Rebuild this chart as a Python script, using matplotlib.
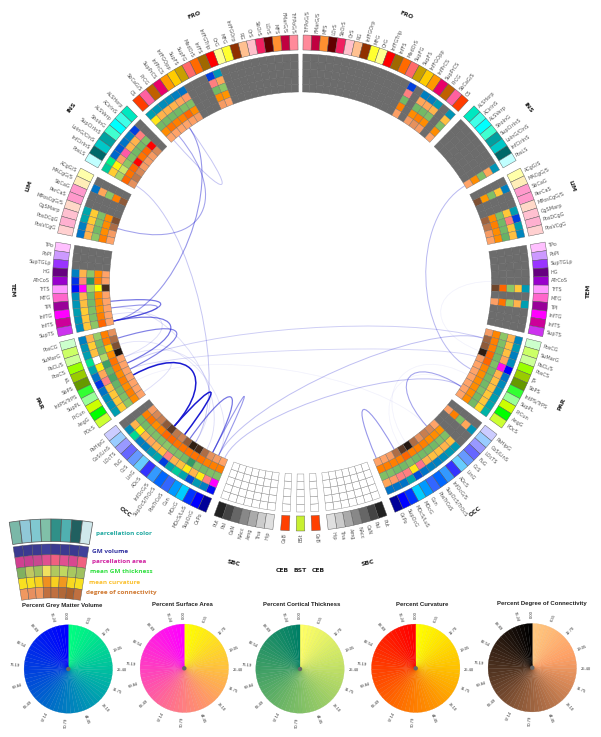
import numpy as np
import matplotlib
matplotlib.use("Agg")
import matplotlib.pyplot as plt
from matplotlib.patches import Wedge, PathPatch, Circle
from matplotlib.path import Path

x = np.nan
W = -1  # white cell inside a data group

# parcel names, one list per lobe
fro = ["TrFPoG/S", "FMarG/S", "MFS", "LOrS", "SbOrS", "OrS", "RG", "InfFGOrp", "MFG", "OrG", "InfFGTrip",
       "InfFS", "MedOrS", "SupFG", "SupFS", "InfFGOpp", "InfPrCS", "SupPrCS", "PrCG", "SbCaG/S", "CS"]
ins = ["ALSHorp", "ACirInS", "ALSVerp", "ShoInG", "SupCirInS", "LoInG/CInS", "InfCirInS", "PosLS"]
lim = ["ACgG/S", "MACgG/S", "SbCaG", "PerCaS", "MPosCgG/S", "CgSMarp", "PosDCgG", "PosVCgG"]
tem = ["TPo", "PoPl", "SupTGLp", "HG", "ATrCoS", "TrTS", "MTG", "TPl", "InfTG", "InfTS", "SupTS"]
par = ["PosCG", "SuMarG", "PaCL/S", "PosCS", "JS", "SbPS", "IntPS/TrPS", "SupPL", "PrCun", "AngG", "POcS"]
occ = ["PaHipG", "CoS/LinS", "LOcTS", "FuG", "CcS", "LinG", "AOcS", "InfOcG/S", "SupOcS/TrOcS", "PosTrCoS",
       "Cun", "MOcG", "MOcS/LuS", "SupOcG", "OcPo"]
sbc = ["Put", "Pal", "CaN", "NAcc", "Amg", "Tha", "Hip"]
ceb = ["CeB"]
bst = ["BSt"]

fro_col = ["#ff8a9a", "#c00040", "#ff9030", "#600000", "#f02060", "#ffc0cb", "#ffc090", "#903000", "#ffff30",
           "#ffff90", "#ff0000", "#a06800", "#ff6a00", "#ff6a6a", "#c8a000", "#ffcc00", "#ff9900", "#e8006a",
           "#c06000", "#ff60a0", "#ff3c00"]
ins_col = ["#00e8c0", "#40ffe8", "#00ffff", "#40ffd0", "#00a0a0", "#00c8c8", "#006868", "#c0ffff"]
lim_col = ["#ffffaa", "#ffeeb8", "#ff99cc", "#ff99cc", "#ffd8c8", "#ffc0d0", "#ffb0d0", "#ffd0d0"]
tem_col = ["#ffc0ff", "#cc99ff", "#9933ff", "#660080", "#9900cc", "#ff99ff", "#ff66cc", "#990099", "#ff00ff",
           "#cc0099", "#cc33ee"]
par_col = ["#ccffcc", "#ccff66", "#ccff99", "#99ff00", "#99cc00", "#669900", "#33ff33", "#99ff99", "#ccff00",
           "#00ff00", "#ccff33"]
occ_col = ["#ccccff", "#99ccff", "#9999ff", "#6666ff", "#6699ff", "#66ccff", "#3333ff", "#3399ff", "#0066ff",
           "#3366ff", "#0099ff", "#00ccff", "#0033ff", "#0000ff", "#000099"]
sbc_col = ["#222222", "#444444", "#666666", "#888888", "#aaaaaa", "#cccccc", "#e0e0e0"]
ceb_col = ["#ff4000"]
bst_col = ["#c8f030"]

# percent values per track: FRO, INS, LIM, TEM, PAR, OCC
gm_r = [x] * 14 + [75, x, 50, 50, 40, x, 42] + [x] * 7 + [42] + [x, 50, x, x, 38, 75, 38, 48] \
    + [x] * 5 + [40, x, 38, x, x, x] + [48, 40, 50, 45, 100, 55, 45, 42, 38, 35, 30] \
    + [x, 42, x, x, 40, 40, 45, 50, 50, 55, 70, 35, 55, 55, 55]
area_r = [x] * 14 + [50, x, 35, 35, 30, x, 25] + [x] * 7 + [35] + [x, 22, x, x, 22, 50, 22, 25] \
    + [x] * 5 + [22, x, 30, x, x, x] + [30, 25, 25, 35, 95, 30, 25, 25, 22, 22, 15] \
    + [x, 35, x, x, 25, 30, 25, 25, 30, 55, 10, 50, 50, 40, 35]
thick_r = [x] * 14 + [55, x, 55, 55, 50, x, 50] + [x] * 7 + [50] + [x, 50, x, x, 50, 55, 55, 60] \
    + [x] * 5 + [45, x, 40, x, x, x] + [45, 50, 55, 55, 50, 55, 55, 55, 50, 55, 55] \
    + [x, 50, x, x, 50, 50, 55, 55, 55, 55, 50, 55, 55, 50, 50]
curv_r = [x] * 14 + [50, x, 45, 50, 45, x, 45] + [x] * 7 + [45] + [x, 40, x, x, 45, 50, 45, 45] \
    + [x] * 5 + [60, x, 55, x, x, x] + [48, 50, 50, 60, 60, 48, 45, 45, 45, 45, 45] \
    + [x, 50, x, x, 42, 45, 45, 50, 50, 50, 60, 50, 50, 50, 50]
conn_r = [x] * 14 + [20, x, 22, 27, 22, x, 18] + [x] * 7 + [18] + [x, 60, x, x, 50, 40, 22, 18] \
    + [x] * 5 + [65, x, 20, x, x, x] + [22, 50, 55, 85, 22, 18, 18, 18, 18, 18, 18] \
    + [x, 20, x, x, 18, 32, 37, 27, 45, 88, 70, 45, 22, 18, 18]

gm_l = [x] * 10 + [42, 75, x, x, x, 55, 50, 45, 45, 42, 38] + [x, 75, 50, 55, 65, 60, 5, 20] \
    + [x, 55, x, x, 35, 35, 50, 55] + [x, x, x, 50, 80, 95, 45, 42, 38, 42, 45] \
    + [50, 42, 38, 10, 35, 55, 80, 55, 45, 42, 38] \
    + [x, 45, 15, 50, 50, 40, 35, 75, 35, 20, 35, 70, 40, 50, 95]
area_l = [x] * 10 + [35, 50, x, x, x, 40, 35, 30, 30, 30, 10] + [x, 50, 30, 30, 65, 40, 5, 20] \
    + [x, 35, x, x, 20, 20, 30, 30] + [x, x, x, 30, 45, 100, 30, 25, 20, 22, 22] \
    + [30, 20, 25, W, 8, 35, 50, 25, 22, 22, 20] \
    + [x, 30, 5, 30, 35, 30, 25, 50, 30, 25, 8, 30, 8, 50, 100]
thick_l = [x] * 10 + [45, 55, x, x, x, 50, 50, 55, 55, 55, 55] + [x, 50, 55, 55, 50, 45, 20, 35] \
    + [x, 45, x, x, 50, 50, 55, 45] + [x, x, x, 45, 85, 35, 55, 55, 50, 50, 45] \
    + [40, 55, 55, 30, 75, 60, 70, 60, 55, 50, 45] \
    + [x, 55, 55, 50, 50, 50, 45, 50, 50, 55, 80, 50, 55, 50, 50]
curv_l = [x] * 10 + [42, 45, x, x, x, 45, 60, 50, 50, 55, 45] + [x, 100, 60, 55, 100, 60, 55, 60] \
    + [x, 50, x, x, 45, 45, 45, 50] + [x, x, x, 45, 50, 0, 45, 45, 42, 50, 60] \
    + [50, 50, 22, 45, 55, 50, 45, 50, 45, 50, 45] \
    + [x, 50, 55, 45, 50, 60, 60, 55, 55, 55, 55, 55, 50, 50, 50]
conn_l = [x] * 10 + [18, 22, x, x, x, 22, 20, 18, 18, 18, 18] + [x, 32, 22, 22, 22, 32, 40, 27] \
    + [x, 55, x, x, 60, 45, 22, 18] + [x, x, x, 18, 20, 78, 18, 18, 18, 18, 18] \
    + [27, 45, 60, 90, 18, 18, 18, 18, 18, 18, 18] \
    + [x, 22, 32, 37, 55, 70, 40, 35, 55, 85, 78, 45, 27, 22, 18]

# connections: (side, lobe, parcel)
link_from = [("L", "TEM", 7), ("L", "TEM", 8), ("L", "TEM", 10), ("L", "PAR", 1), ("L", "PAR", 7), ("L", "OCC", 5),
             ("L", "OCC", 8), ("L", "OCC", 12), ("L", "LIM", 5), ("L", "FRO", 17), ("L", "TEM", 10), ("L", "INS", 7),
             ("L", "TEM", 8), ("L", "PAR", 2), ("L", "PAR", 5), ("L", "PAR", 6), ("L", "OCC", 14), ("L", "OCC", 13),
             ("R", "INS", 7), ("R", "PAR", 9), ("R", "OCC", 11), ("R", "PAR", 7), ("R", "PAR", 9), ("R", "TEM", 4),
             ("L", "PAR", 4), ("L", "TEM", 9), ("L", "PAR", 7), ("L", "PAR", 8)]
link_to = [("L", "TEM", 10), ("L", "TEM", 10), ("L", "PAR", 5), ("L", "PAR", 6), ("L", "OCC", 5), ("L", "OCC", 7),
           ("L", "OCC", 12), ("L", "OCC", 13), ("L", "FRO", 19), ("L", "FRO", 20), ("L", "FRO", 17), ("L", "OCC", 9),
           ("L", "OCC", 11), ("L", "OCC", 13), ("R", "PAR", 1), ("R", "PAR", 4), ("R", "PAR", 9), ("R", "PAR", 1),
           ("R", "PAR", 6), ("R", "OCC", 5), ("R", "OCC", 14), ("R", "OCC", 9), ("R", "OCC", 10), ("R", "PAR", 3),
           ("L", "OCC", 9), ("L", "PAR", 4), ("L", "PAR", 10), ("R", "OCC", 5)]
link_ctrl = [125, 130, 120, 115, 125, 125, 115, 105, 105, 105, 127, 126, 130, 130, 107, 150, 140, 130, 127, 130, 125,
             125, 130, 130, 120, 130, 140, 120]
link_strength = [.6, .45, .6, .55, 1, 1, .6, .45, .4, .25, .45, .25, .15, .12, .22, .18, .28, .28, .3, .4, .45, .06,
                 .05, .06, .12, .15, .15, .06]

# legend colours
legend_top = ["#7ab8a8", "#90c8d8", "#80c8d0", "#80c0a8", "#309088", "#50b0b0", "#206060", "#d0e8ec"]
legend_gm = ["#3a3a90", "#3a3a90", "#3a3a90", "#40409a", "#3a3a90", "#3a3a90", "#3a3a90", "#40409a"]
legend_area = ["#d04090", "#c84090", "#c84890", "#e05090", "#f06080", "#e05090", "#d84890", "#f06080"]
legend_thick = ["#80b060", "#c0c860", "#a0c060", "#f0e060", "#b0c860", "#c0d860", "#a8c860", "#a0c060"]
legend_curv = ["#f8e020", "#f8e020", "#f8d020", "#f09020", "#f8d020", "#f09820", "#f8d820", "#f8e020"]
legend_conn = ["#f09860", "#e89060", "#f09860", "#c07040", "#c07040", "#b06838", "#a86030", "#c07040"]
legend_text = ["parcellation color", "GM volume", "parcellation area", "mean GM thickness", "mean curvature",
               "degree of connectivity"]
legend_text_col = ["#20a8a0", "#3030a0", "#d020a0", "#30e040", "#fbc02d", "#d07830"]

wheel_titles = ["Percent Grey Matter Volume", "Percent Surface Area", "Percent Cortical Thickness",
                "Percent Curvature", "Percent Degree of Connectivity"]
wheel_cmaps = ["winter_r", "spring_r", "summer_r", "autumn_r", "copper_r"]
wheel_ticks = [0.00, 6.35, 12.70, 19.05, 25.40, 31.75, 38.10, 44.45, 50.79, 57.14, 63.49, 69.84, 76.19, 82.54, 88.89,
               95.24]
wheel_slices = 63

# layout, in pixels of the 601x737 picture
cx, cy = 300.5, 283
names = {"FRO": fro, "INS": ins, "LIM": lim, "TEM": tem, "PAR": par, "OCC": occ, "SBC": sbc, "CEB": ceb}
colors = {"FRO": fro_col, "INS": ins_col, "LIM": lim_col, "TEM": tem_col, "PAR": par_col, "OCC": occ_col,
          "SBC": sbc_col, "CEB": ceb_col}
start = {"FRO": 0.6, "INS": 44.4, "LIM": 62.4, "TEM": 80.5, "PAR": 103.8, "OCC": 127.6, "SBC": 159.6, "CEB": 175.4}
step = 2.0
track_maps = ["winter_r", "spring_r", "summer_r", "autumn_r", "copper_r"]
tracks_r = [gm_r, area_r, thick_r, curv_r, conn_r]
tracks_l = [gm_l, area_l, thick_l, curv_l, conn_l]
r_out, r_col, r_heat, r_in = 248, 233, 229, 191
label_family = "DejaVu Sans"

fig = plt.figure(figsize=(6.01, 7.37), dpi=100)
ax = fig.add_axes([0, 0, 1, 1])
ax.set_xlim(0, 601)
ax.set_ylim(737, 0)
ax.axis("off")


def cell(a0, a1, r0, r1, face, edge="#555555", lw=0.3, c=(cx, cy), z=3):
    ax.add_patch(Wedge(c, r1, a0 - 90, a1 - 90, width=r1 - r0, facecolor=face, edgecolor=edge, linewidth=lw, zorder=z))


def polar(a, r, c=(cx, cy)):
    t = np.radians(a)
    return c[0] + r * np.sin(t), c[1] - r * np.cos(t)


def radial_label(a, txt):
    # a is signed degrees clockwise from the top
    px, py = polar(a, 250.5)
    rot = 90 - a if a > 0 else -90 - a
    ha = "left" if a > 0 else "right"
    ax.text(px, py, txt, rotation=rot, rotation_mode="anchor", ha=ha, va="center", fontsize=3.6, color="#555555",
            family=label_family, zorder=4)


def group_label(a, txt):
    px, py = polar(a, 288)
    if abs(a) > 175:
        rot = 0
    elif a > 0:
        rot = -a if a < 90 else 180 - a
    else:
        rot = -a if a > -90 else -180 - a
    ax.text(px, py, txt, rotation=rot, rotation_mode="anchor", ha="center", va="center", fontsize=4.4, weight="bold",
            color="#222222", family=label_family, zorder=4)


def track_color(track, value):
    if np.isnan(value):
        return "#6c6c6c"
    if value == W:
        return "white"
    return matplotlib.colormaps[track_maps[track]](value / 100)


def draw_side(sign, tracks):
    pos = 0
    dr = (r_heat - r_in) / 5
    for lobe in ["FRO", "INS", "LIM", "TEM", "PAR", "OCC"]:
        for i, nm in enumerate(names[lobe]):
            a0 = start[lobe] + i * step
            lo, hi = (a0, a0 + step) if sign > 0 else (-a0 - step, -a0)
            cell(lo, hi, r_col, r_out, colors[lobe][i])
            radial_label(sign * (a0 + step / 2), nm)
            for t in range(5):
                face = track_color(t, tracks[t][pos])
                edge = "#626262" if face == "#6c6c6c" else "#6a6a6a"
                cell(lo, hi, r_heat - (t + 1) * dr, r_heat - t * dr, face, edge=edge, lw=0.25)
            pos += 1
        group_label(sign * (start[lobe] + step * len(names[lobe]) / 2), lobe)
    for lobe in ["SBC", "CEB"]:
        for i, nm in enumerate(names[lobe]):
            a0 = start[lobe] + i * step
            lo, hi = (a0, a0 + step) if sign > 0 else (-a0 - step, -a0)
            cell(lo, hi, r_col, r_out, colors[lobe][i])
            radial_label(sign * (a0 + step / 2), nm)
            for t in range(5):
                cell(lo, hi, r_heat - (t + 1) * dr, r_heat - t * dr, "white", edge="#888888", lw=0.3)
        group_label(sign * (start[lobe] + step * len(names[lobe]) / 2), lobe)


draw_side(1, tracks_r)
draw_side(-1, tracks_l)

# brainstem, on the vertical axis
cell(179, 181, r_col, r_out, bst_col[0])
px, py = polar(180, 250.5)
ax.text(px, py, bst[0], rotation=90, rotation_mode="anchor", ha="right", va="center", fontsize=3.6, color="#555555",
        family=label_family)
for t in range(5):
    dr = (r_heat - r_in) / 5
    cell(179, 181, r_heat - (t + 1) * dr, r_heat - t * dr, "white", edge="#888888")
group_label(180, "BST")


# links, weakest first
def anchor(ref):
    side, lobe, i = ref
    return (1 if side == "R" else -1) * (start[lobe] + step * (i + 0.5))


order = np.argsort(link_strength)
for k in order:
    a0, a1 = anchor(link_from[k]), anchor(link_to[k])
    rc = link_ctrl[k]
    verts = [polar(a0, r_in), polar(a0, rc), polar(a1, rc), polar(a1, r_in)]
    path = Path(verts, [Path.MOVETO, Path.CURVE4, Path.CURVE4, Path.CURVE4])
    s = link_strength[k]
    ax.add_patch(PathPatch(path, fill=False, edgecolor=(0.1, 0.1, 0.82, s), linewidth=0.55 + 0.55 * s, zorder=2))

# legend fragment of the ring
lc = (51, 786)
legend_rows = [legend_gm, legend_area, legend_thick, legend_curv, legend_conn]
for i in range(8):
    a0 = -9 + i * 2.25
    cell(a0, a0 + 2.25, 244.5, 267, legend_top[i], edge="#555555", lw=0.5, c=lc)
    for t, row in enumerate(legend_rows):
        cell(a0, a0 + 2.25, 242 - (t + 1) * 10.8, 242 - t * 10.8, row[i], edge="#555555", lw=0.3, c=lc)
legend_x = [95.7, 92.3, 91.7, 90, 89, 86]
legend_y = [533.5, 551.7, 561.3, 571.3, 582, 592.3]
for tx, ty, s, col in zip(legend_x, legend_y, legend_text, legend_text_col):
    ax.text(tx, ty, s, ha="left", va="center", fontsize=4.6, weight="bold", color=col, family="Open Sans")

# percent colour wheels
wheel_x = [68.3, 184.3, 300, 415.7, 532.3]
wheel_y = [669, 668.3, 669, 668.3, 667.7]
title_x = [62.3, 182, 301.7, 421.7, 542]
title_y = [605, 604, 605, 604, 603.5]
wheel_r = 44.2
for wx, wy, tx, ty, title, cmap_name in zip(wheel_x, wheel_y, title_x, title_y, wheel_titles, wheel_cmaps):
    cmap = matplotlib.colormaps[cmap_name]
    c = (wx, wy)
    for i in range(wheel_slices):
        a0 = 360 * i / wheel_slices
        a1 = 360 * (i + 1) / wheel_slices
        col = np.array(cmap(i / (wheel_slices - 1)))
        dark = col * np.array([0.95, 0.95, 0.95, 1])
        ax.add_patch(Wedge(c, wheel_r, a0 - 90, a1 - 90, facecolor=col, edgecolor=dark, linewidth=0.2, zorder=3))
    ax.add_patch(Circle(c, 2.2, facecolor="#666666", edgecolor="none", zorder=4))
    for v in wheel_ticks:
        a = v * 3.6
        px, py = polar(a, 53.5, c)
        rot = 90 - a
        if rot < -90:
            rot += 180
        ax.text(px, py, f"{v:.2f}", rotation=rot, rotation_mode="anchor", ha="center", va="center", fontsize=3.0,
                color="#333333", family="Liberation Sans")
    ax.text(tx, ty, title, ha="center", va="center", fontsize=4.3, weight="bold", color="#222222",
            family=["Liberation Sans Narrow", "Liberation Sans"])

fig.savefig("out.png", dpi=100)
